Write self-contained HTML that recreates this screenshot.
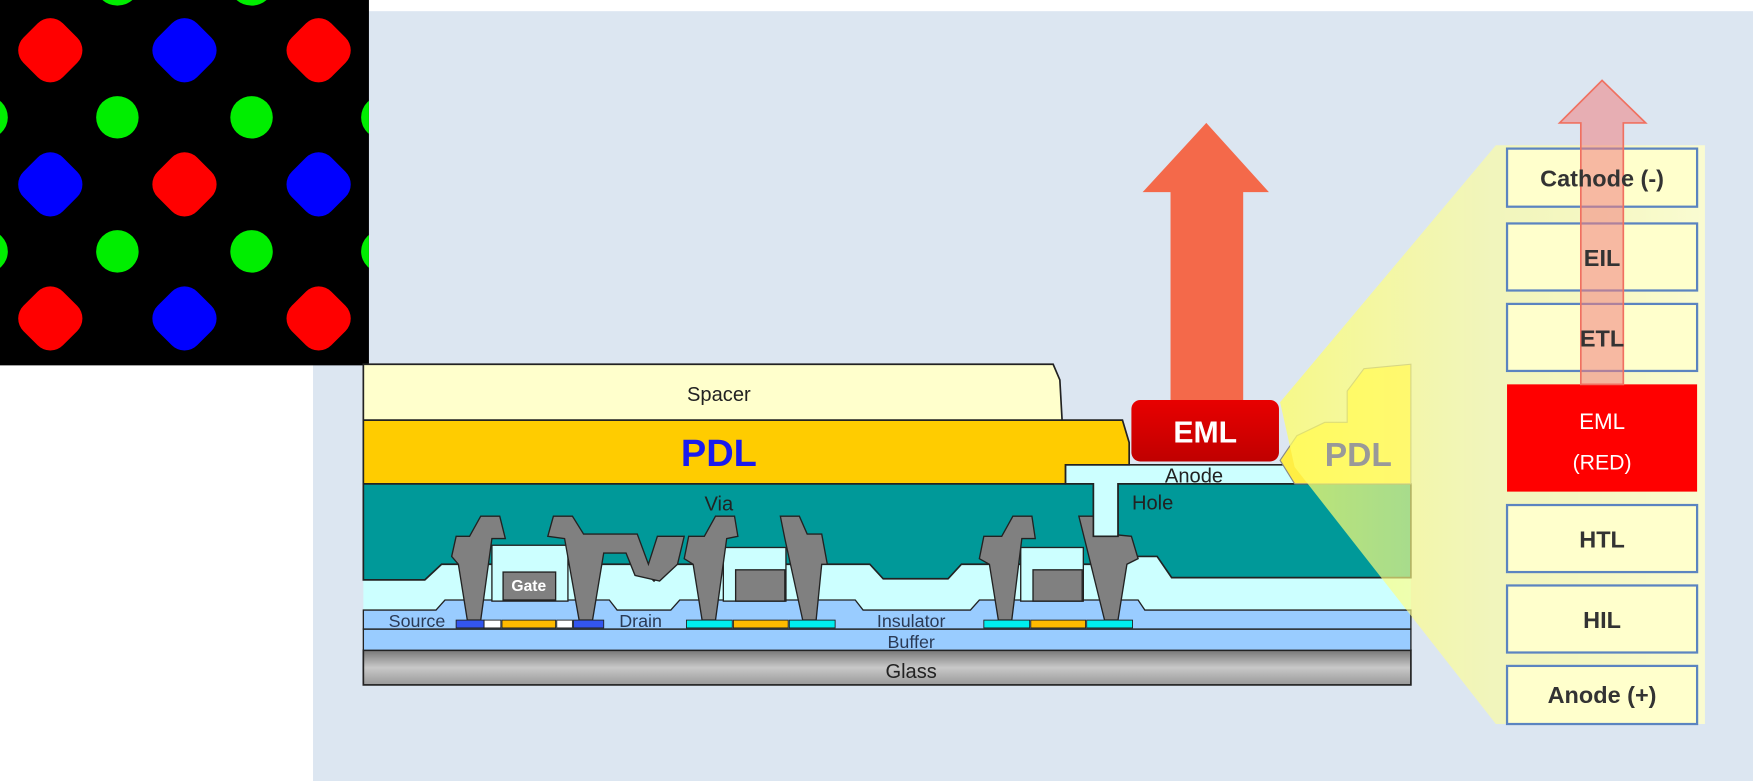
<!DOCTYPE html>
<html><head><meta charset="utf-8"><style>
html,body{margin:0;padding:0;background:#fff;width:1753px;height:781px;overflow:hidden}
svg{display:block}
text{font-family:"Liberation Sans",sans-serif}
</style></head><body>
<svg width="1753" height="781" viewBox="0 0 1568 699" preserveAspectRatio="none" xmlns="http://www.w3.org/2000/svg">
<defs>
<linearGradient id="gl" x1="0" y1="0" x2="0" y2="1"><stop offset="0" stop-color="#777"/><stop offset="0.5" stop-color="#c8c8c8"/><stop offset="1" stop-color="#999"/></linearGradient>
<linearGradient id="cone" x1="0" y1="0" x2="1" y2="0"><stop offset="0" stop-color="#ffff66" stop-opacity="0.75"/><stop offset="0.5" stop-color="#ffff99" stop-opacity="0.6"/><stop offset="1" stop-color="#ffffcc" stop-opacity="0.85"/></linearGradient>
<linearGradient id="eml" x1="0" y1="0" x2="0" y2="1"><stop offset="0" stop-color="#e80000"/><stop offset="1" stop-color="#c00000"/></linearGradient>
<clipPath id="ph"><rect x="0" y="0" width="330" height="327"/></clipPath>
</defs>
<rect x="0" y="0" width="1568" height="699" fill="#fff"/>
<rect x="280" y="10" width="1288" height="689" fill="#dce6f1"/>
<!-- pixel photo -->
<rect x="0" y="0" width="330" height="327" fill="#000"/>
<g clip-path="url(#ph)">
<g fill="#ff0000">
<rect x="20" y="20" width="50" height="50" rx="16" transform="rotate(45 45 45)"/>
<rect x="260" y="20" width="50" height="50" rx="16" transform="rotate(45 285 45)"/>
<rect x="140" y="140" width="50" height="50" rx="16" transform="rotate(45 165 165)"/>
<rect x="20" y="260" width="50" height="50" rx="16" transform="rotate(45 45 285)"/>
<rect x="260" y="260" width="50" height="50" rx="16" transform="rotate(45 285 285)"/>
</g>
<g fill="#0000ff">
<rect x="140" y="20" width="50" height="50" rx="16" transform="rotate(45 165 45)"/>
<rect x="20" y="140" width="50" height="50" rx="16" transform="rotate(45 45 165)"/>
<rect x="260" y="140" width="50" height="50" rx="16" transform="rotate(45 285 165)"/>
<rect x="140" y="260" width="50" height="50" rx="16" transform="rotate(45 165 285)"/>
</g>
<g fill="#00ee00">
<ellipse cx="105" cy="105" rx="19" ry="19"/><ellipse cx="225" cy="105" rx="19" ry="19"/>
<ellipse cx="105" cy="225" rx="19" ry="19"/><ellipse cx="225" cy="225" rx="19" ry="19"/>
<ellipse cx="-12" cy="105" rx="19" ry="19"/><ellipse cx="-12" cy="225" rx="19" ry="19"/>
<ellipse cx="342" cy="105" rx="19" ry="19"/><ellipse cx="342" cy="225" rx="19" ry="19"/>
<ellipse cx="105" cy="-12" rx="19" ry="17"/><ellipse cx="225" cy="-12" rx="19" ry="17"/>
</g>
</g>

<!-- base layers -->
<rect x="325" y="582" width="937" height="31" fill="url(#gl)" stroke="#222" stroke-width="1.5"/>
<rect x="325" y="563" width="937" height="19" fill="#99ccff" stroke="#222" stroke-width="1.2"/>
<rect x="325" y="433" width="937" height="130" fill="#ccffff"/>
<path d="M325,546 L390,546 L398,537 L545,537 L552,546 L600,546 L608,537 L765,537 L772,546 L868,546 L876,537 L1018,537 L1024,546 L1262,546 L1262,563 L325,563Z" fill="#99ccff" stroke="#222" stroke-width="1.2"/>
<!-- teal via -->
<path d="M325,433 L978,433 L978,480 L1000,480 L1000,433 L1262,433 L1262,517 L1048,517 L1035,498 L1000,498 L1000,505 L860,505 L848,518 L790,518 L778,505 L600,505 L585,520 L570,505 L395,505 L380,519 L325,519Z" fill="#009999" stroke="#222" stroke-width="1.5"/>
<!-- inner cyan boxes of TFTs -->
<rect x="440" y="488" width="68" height="50" fill="#ccffff" stroke="#222" stroke-width="1.2"/>
<rect x="647" y="490" width="56" height="48" fill="#ccffff" stroke="#222" stroke-width="1.2"/>
<rect x="913" y="490" width="56" height="48" fill="#ccffff" stroke="#222" stroke-width="1.2"/>
<!-- gates -->
<rect x="450" y="512" width="47" height="25" fill="#808080" stroke="#222" stroke-width="1.2"/>
<text x="473" y="529" font-size="14" font-weight="bold" fill="#fff" text-anchor="middle">Gate</text>
<rect x="658" y="510" width="44" height="28" fill="#808080" stroke="#222" stroke-width="1.2"/>
<rect x="924" y="510" width="44" height="28" fill="#808080" stroke="#222" stroke-width="1.2"/>
<!-- gray pillars -->
<g fill="#808080" stroke="#222" stroke-width="1.2">
<path d="M404,498 L408,480 L420,480 L430,462 L447,462 L452,482 L440,482 L430,555 L418,555 L410,505Z"/>
<path d="M490,480 L495,462 L512,462 L522,478 L570,478 L580,505 L588,480 L612,480 L606,505 L590,520 L568,515 L560,495 L540,495 L530,555 L518,555 L505,482Z"/>
<path d="M612,500 L616,480 L630,480 L640,462 L657,462 L660,480 L650,482 L640,555 L628,555 L620,505Z"/>
<path d="M702,482 L698,462 L715,462 L722,478 L735,478 L740,505 L735,505 L730,555 L718,555Z"/>
<path d="M876,500 L880,480 L896,480 L906,462 L923,462 L926,482 L914,482 L905,555 L893,555 L885,505Z"/>
<path d="M970,482 L965,462 L982,462 L992,478 L1012,480 L1018,500 L1008,505 L1000,555 L988,555Z"/>
</g>
<!-- active layers -->
<g stroke="#222" stroke-width="0.8">
<rect x="408" y="555" width="25" height="7" fill="#3355ee"/><rect x="433" y="555" width="15" height="7" fill="#fff"/>
<rect x="449" y="555" width="48" height="7" fill="#ffbb00"/><rect x="498" y="555" width="14" height="7" fill="#fff"/>
<rect x="513" y="555" width="27" height="7" fill="#3355ee"/>
<rect x="614" y="555" width="41" height="7" fill="#00eeee"/><rect x="656" y="555" width="49" height="7" fill="#ffbb00"/><rect x="706" y="555" width="41" height="7" fill="#00eeee"/>
<rect x="880" y="555" width="41" height="7" fill="#00eeee"/><rect x="922" y="555" width="49" height="7" fill="#ffbb00"/><rect x="972" y="555" width="41" height="7" fill="#00eeee"/>
</g>
<!-- anode -->
<path d="M953,416 L1158,416 L1158,433 L1000,433 L1000,480 L978,480 L978,433 L953,433Z" fill="#ccffff" stroke="#222" stroke-width="1.5"/>
<!-- PDL & spacer -->
<path d="M325,376 L1004,376 L1010,396 L1010,416 L953,416 L953,433 L325,433Z" fill="#ffcc00" stroke="#222" stroke-width="1.5"/>
<path d="M325,326 L942,326 L948,340 L950,376 L325,376Z" fill="#ffffcc" stroke="#222" stroke-width="1.5"/>
<!-- right partial PDL -->
<path d="M1145,412 L1160,390 L1185,378 L1205,378 L1205,350 L1220,330 L1262,326 L1262,433 L1158,433Z" fill="#ffee44" stroke="#888" stroke-width="1"/>
<!-- big arrow -->
<path d="M1047,360 L1047,172 L1022,172 L1079,110 L1135,172 L1112,172 L1112,360Z" fill="#f4694a"/>
<rect x="1012" y="358" width="132" height="55" rx="8" fill="url(#eml)"/>
<!-- cone -->
<path d="M1145,360 L1338,130 L1525,130 L1525,648 L1338,648 L1158,418Z" fill="url(#cone)"/>
<!-- right stack -->
<g stroke="#5b84c0" stroke-width="2" fill="#ffffcc">
<rect x="1348" y="133" width="170" height="52"/>
<rect x="1348" y="200" width="170" height="60"/>
<rect x="1348" y="272" width="170" height="60"/>
<rect x="1348" y="452" width="170" height="60"/>
<rect x="1348" y="524" width="170" height="60"/>
<rect x="1348" y="596" width="170" height="52"/>
</g>
<rect x="1348" y="344" width="170" height="96" fill="#ff0000"/>
<path d="M1414,344 L1414,110 L1395,110 L1433,72 L1472,110 L1452,110 L1452,344Z" fill="#f08080" fill-opacity="0.55" stroke="#f07060" stroke-width="1.5"/>
<!-- labels -->
<g fill="#333" font-weight="bold" font-size="21" text-anchor="middle">
<text x="1433" y="167">Cathode (-)</text>
<text x="1433" y="238">EIL</text>
<text x="1433" y="310">ETL</text>
<text x="1433" y="490">HTL</text>
<text x="1433" y="562">HIL</text>
<text x="1433" y="629">Anode (+)</text>
</g>
<text x="1433" y="384" fill="#fff" font-size="20" text-anchor="middle">EML</text>
<text x="1433" y="420" fill="#fff" font-size="19" text-anchor="middle">(RED)</text>
<text x="1078" y="396" fill="#fff" font-weight="bold" font-size="27" text-anchor="middle">EML</text>
<text x="1215" y="417" fill="#999" font-weight="bold" font-size="30" text-anchor="middle">PDL</text>
<text x="643" y="417" fill="#1a1aee" font-weight="bold" font-size="34" text-anchor="middle">PDL</text>
<g fill="#222" font-size="18" text-anchor="middle">
<text x="643" y="359">Spacer</text>
<text x="643" y="457">Via</text>
<text x="1031" y="456">Hole</text>
<text x="1068" y="432">Anode</text>
<text x="815" y="607">Glass</text>
</g>
<g fill="#2a3a55" font-size="16" text-anchor="middle">
<text x="373" y="561">Source</text>
<text x="573" y="561">Drain</text>
<text x="815" y="561">Insulator</text>
<text x="815" y="580">Buffer</text>
</g>
</svg>
</body></html>
